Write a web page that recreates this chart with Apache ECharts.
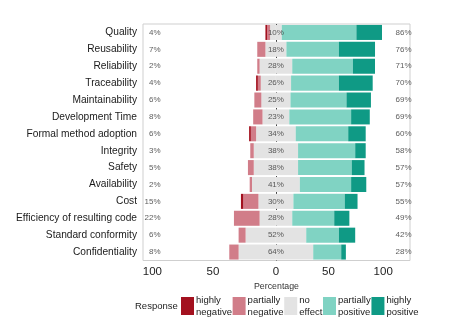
<!DOCTYPE html>
<html><head><meta charset="utf-8">
<script src="https://cdn.jsdelivr.net/npm/echarts@6/dist/echarts.min.js"></script>
<style>html,body{margin:0;padding:0;background:#fff}#c{width:464px;height:334px}</style>
</head><body><div id="c"></div>
<script>
const categories = ['Quality','Reusability','Reliability','Traceability','Maintainability','Development Time','Formal method adoption','Integrity','Safety','Availability','Cost','Efficiency of resulting code','Standard conformity','Confidentiality'];
const highlyNegative   = [1.5, 0, 0, 1.5, 0, 0, 1.5, 0, 0, 0, 2, 0, 0, 0];
const partiallyNegative= [2.5, 7, 2, 2.5, 6, 8, 4.5, 3, 5, 2, 13, 22, 6, 8];
const noEffect         = [10, 18, 28, 26, 25, 23, 34, 38, 38, 41, 30, 28, 52, 64];
const partiallyPositive= [64, 45, 52, 41, 48, 53, 45, 49, 46, 44, 44, 36, 28, 24];
const highlyPositive   = [22, 31, 19, 29, 21, 16, 15, 9, 11, 13, 11, 13, 14, 4];
const tickValues = [-106, -54, 0, 45, 92];
const tickLabels = ['100', '50', '0', '50', '100'];
const legendNames = ['highly negative', 'partially negative', 'no effect', 'partially positive', 'highly positive'];

const FONT = '"Liberation Sans", Arial, sans-serif';
const C = {hn:'#a3111f', pn:'#d17d89', ne:'#e3e3e3', pp:'#80d3c3', hp:'#0f9a85'};
const lowTotal = categories.map((c,i)=>Math.round(highlyNegative[i]+partiallyNegative[i]));
const highTotal = categories.map((c,i)=>Math.round(highlyPositive[i]+partiallyPositive[i]));
const tickMap = {}; tickValues.forEach((v,i)=>tickMap[v]=tickLabels[i]);

const barBase = {type:'bar', stack:'s', barCategoryGap:'11%', z:3, silent:true};
const lblBase = {type:'scatter', z:5, silent:true, symbolSize:1, itemStyle:{color:'transparent'}};
const chart = echarts.init(document.getElementById('c'));
chart.setOption({
  animation:false,
  textStyle:{fontFamily:FONT},
  grid:{left:143, right:54, top:24, bottom:73.5, show:true, borderColor:'#cfcfcf', borderWidth:1, backgroundColor:'transparent'},
  xAxis:{type:'value', min:-114, max:115,
    axisLine:{show:false}, axisTick:{show:false}, splitLine:{show:false},
    axisLabel:{customValues:tickValues, formatter:v=>tickMap[v]!==undefined?tickMap[v]:'', fontSize:11.5, color:'#222', margin:5, fontFamily:FONT},
    name:'Percentage', nameLocation:'middle', nameGap:16, nameTextStyle:{fontSize:8.8, color:'#333', fontFamily:FONT}
  },
  yAxis:{type:'category', data:categories, inverse:true,
    axisLine:{show:false}, axisTick:{show:false},
    axisLabel:{fontSize:10.2, color:'#1a1a1a', margin:6, fontFamily:FONT}
  },
  legend:{data:legendNames, left:181, top:294, padding:0, itemWidth:13, itemHeight:18, itemGap:0.7, icon:'rect',
    formatter:n=>n.replace(' ','\n'),
    textStyle:{fontSize:9.5, lineHeight:12, color:'#222', fontFamily:FONT, padding:[0,0,0,-3]}, selectedMode:false},
  graphic:[{type:'text', left:135, top:301, style:{text:'Response', fontSize:9.5, fill:'#222', fontFamily:FONT}}],
  series:[
    Object.assign({}, barBase, {name:'no effect', data:noEffect.map(v=>-v/2), itemStyle:{color:C.ne}}),
    Object.assign({}, barBase, {name:'no effect', data:noEffect.map(v=>v/2), itemStyle:{color:C.ne}}),
    Object.assign({}, barBase, {name:'partially negative', data:partiallyNegative.map(v=>-v), itemStyle:{color:C.pn}}),
    Object.assign({}, barBase, {name:'partially positive', data:partiallyPositive, itemStyle:{color:C.pp}}),
    Object.assign({}, barBase, {name:'highly negative', data:highlyNegative.map(v=>-v), itemStyle:{color:C.hn}}),
    Object.assign({}, barBase, {name:'highly positive', data:highlyPositive, itemStyle:{color:C.hp}}),
    {type:'scatter', name:'center', data:[], z:1, silent:true,
      markLine:{z:1, silent:true, symbol:'none', label:{show:false}, lineStyle:{color:'#444', width:1, type:[2,2]}, data:[{xAxis:0}]}},
    Object.assign({}, lblBase, {name:'lowLbl', data:categories.map((c,i)=>[-98.5,i]),
      label:{show:true, position:'left', distance:0, formatter:p=>lowTotal[p.dataIndex]+'%', fontSize:8, color:'#333', fontFamily:FONT}}),
    Object.assign({}, lblBase, {name:'midLbl', data:categories.map((c,i)=>[0,i]),
      label:{show:true, position:'inside', formatter:p=>noEffect[p.dataIndex]+'%', fontSize:8, color:'#333', fontFamily:FONT}}),
    Object.assign({}, lblBase, {name:'highLbl', data:categories.map((c,i)=>[102.2,i]),
      label:{show:true, position:'right', distance:0, formatter:p=>highTotal[p.dataIndex]+'%', fontSize:8, color:'#333', fontFamily:FONT}})
  ]
});
</script></body></html>
